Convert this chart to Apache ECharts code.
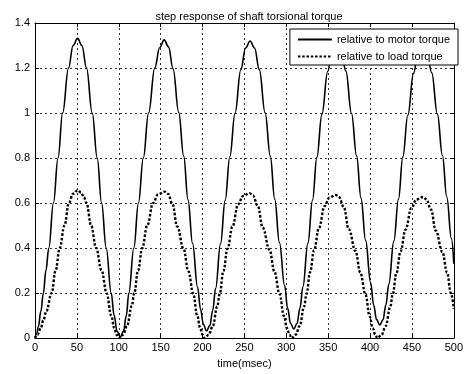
<!DOCTYPE html>
<html lang="en">
<head>
  <meta charset="UTF-8">
  <title>step response of shaft torsional torque</title>
  <style>
    html, body { margin: 0; padding: 0; background: #fff; }
    #chart { width: 466px; height: 374px; }
  </style>
</head>
<body>
<div id="chart"></div>
<script src="https://cdn.jsdelivr.net/npm/echarts@6/dist/echarts.min.js"></script>
<script>
  // values (time in msec)
  var motorTime = [
    0, 2, 4, 7, 10, 13, 16.5, 22, 27.5, 33, 40, 45.5, 50.8, 56, 61.5, 68.3, 74.3, 79.5, 85, 91, 94.5, 98, 101.8,
    105.6, 109, 112, 118, 123.5, 129.3, 135.6, 143, 148.8, 154.2,
    159.4, 164.8, 171.6, 177.5, 182.7, 188.1, 194.1, 197.6, 201, 204.8,
    208.7, 212.2, 215.6, 221.5, 227, 232.6, 238.8, 245.7, 251.4, 256.8,
    262.1, 267.8, 274.7, 280.9, 286.2, 291.8, 298, 301.6, 305.1, 309,
    312.8, 316.3, 319.8, 325.8, 331.3, 336.5, 342.5, 349.5, 354.8, 360.3,
    365.5, 371.1, 377.9, 383.9, 389.2, 394.7, 400.7, 404.3, 407.8, 411.6,
    415.4, 418.9, 422.4, 428.4, 433.9, 439.1, 445.1, 451.9, 457.4, 462.9,
    468.1, 473.6, 480.4, 486.4, 491.6, 497.1, 500
  ];
  var motorTorque = [
    0, 0.02, 0.05, 0.12, 0.2, 0.3, 0.4, 0.6, 0.8, 1.0, 1.2, 1.3, 1.332, 1.3, 1.2, 1.0, 0.8, 0.6, 0.4, 0.2, 0.1, 0.03, 0.005,
    0.03, 0.1, 0.2, 0.4, 0.6, 0.8, 1.0, 1.2, 1.29, 1.325,
    1.294, 1.197, 1.003, 0.809, 0.614, 0.42, 0.226, 0.129, 0.061, 0.032,
    0.056, 0.124, 0.221, 0.419, 0.612, 0.806, 0.999, 1.192, 1.289, 1.32,
    1.289, 1.193, 1.001, 0.809, 0.617, 0.425, 0.233, 0.132, 0.065, 0.041,
    0.065, 0.132, 0.227, 0.422, 0.613, 0.803, 0.994, 1.185, 1.28, 1.31,
    1.28, 1.186, 0.998, 0.81, 0.622, 0.434, 0.246, 0.147, 0.082, 0.058,
    0.081, 0.147, 0.24, 0.431, 0.617, 0.804, 0.99, 1.176, 1.27, 1.3,
    1.27, 1.179, 0.995, 0.811, 0.627, 0.443, 0.33
  ];

  var loadTime = [
    0, 3, 6.9, 10, 13.6, 19.8, 24.6, 29.5, 35.2, 40.4, 45.5, 51, 55, 58.4, 61.5, 67, 73, 79.5, 85.5, 91, 94.6, 97.5, 100,
    105, 110, 115.5, 118.5, 123, 128, 134, 141, 147, 154.9,
    158.9, 164.1, 169.8, 177.4, 183.1, 188.9, 193.7, 197.2, 200, 202.5,
    207.4, 212.3, 217.6, 220.6, 224.9, 229.8, 235.7, 242.5, 248.4, 256.2,
    260.2, 265.9, 271.9, 280, 285.9, 292, 297.2, 300.8, 303.8, 306.4,
    311.2, 316, 321.2, 324.1, 328.4, 333.2, 339, 345.7, 351.4, 359.1,
    363.1, 368.7, 374.6, 382.6, 388.4, 394.5, 399.6, 403.2, 406.2, 408.7,
    413.7, 418.6, 424.1, 427, 431.5, 436.4, 442.4, 449.3, 455.3, 463.2,
    467.2, 472.7, 478.5, 486.4, 492, 496.5, 500
  ];
  var loadTorque = [
    0, 0.015, 0.045, 0.08, 0.12, 0.2, 0.3, 0.4, 0.5, 0.6, 0.642, 0.657, 0.647, 0.626, 0.6, 0.5, 0.4, 0.3, 0.2, 0.1, 0.045, 0.015, 0,
    0.015, 0.055, 0.143, 0.2, 0.3, 0.4, 0.5, 0.6, 0.639, 0.651,
    0.641, 0.595, 0.496, 0.396, 0.297, 0.198, 0.099, 0.045, 0.015, 0,
    0.015, 0.054, 0.141, 0.198, 0.297, 0.396, 0.495, 0.594, 0.632, 0.644,
    0.634, 0.588, 0.49, 0.392, 0.294, 0.196, 0.098, 0.044, 0.015, 0,
    0.015, 0.054, 0.14, 0.195, 0.293, 0.391, 0.489, 0.586, 0.624, 0.636,
    0.626, 0.581, 0.484, 0.387, 0.29, 0.194, 0.097, 0.044, 0.015, 0,
    0.014, 0.053, 0.138, 0.193, 0.289, 0.385, 0.482, 0.578, 0.616, 0.627,
    0.617, 0.572, 0.477, 0.382, 0.29, 0.2, 0.13
  ];

  var seriesNames = ['relative to motor torque', 'relative to load torque'];

  function pairs(xs, ys) {
    return xs.map(function (x, i) { return [x, ys[i]]; });
  }

  var font = 'Liberation Sans, Arial, sans-serif';
  var chart = echarts.init(document.getElementById('chart'));

  var gridLine = { show: true, lineStyle: { color: '#333', width: 1, type: [2, 3] } };
  var boxLine = { show: true, onZero: false, lineStyle: { color: '#000', width: 1 } };
  var tick = { show: true, inside: true, length: 4, lineStyle: { color: '#000' } };

  var option = {
    animation: false,
    backgroundColor: '#fff',
    title: {
      text: 'step response of shaft torsional torque',
      left: 244, top: 6, textAlign: 'center',
      textStyle: { fontFamily: font, fontSize: 11, fontWeight: 'normal', color: '#000' }
    },
    legend: {
      data: seriesNames,
      orient: 'vertical',
      right: 8, top: 29,
      padding: [5, 8, 3, 7],
      itemWidth: 34, itemHeight: 10, itemGap: 6,
      itemStyle: { opacity: 0 },
      backgroundColor: '#fff',
      borderColor: '#000', borderWidth: 1,
      selectedMode: false,
      textStyle: { fontFamily: font, fontSize: 11, color: '#000', lineHeight: 10 }
    },
    grid: { left: 35, right: 7, top: 23, bottom: 31 },
    xAxis: [{
      type: 'value', min: 0, max: 500, interval: 50,
      name: 'time(msec)', nameLocation: 'middle', nameGap: 18,
      nameTextStyle: { fontFamily: font, fontSize: 11, color: '#000' },
      axisLine: boxLine, axisTick: tick, splitLine: gridLine,
      axisLabel: { fontFamily: font, fontSize: 11, color: '#000', margin: 4 }
    }, {
      type: 'value', min: 0, max: 500, interval: 50, position: 'top',
      axisLine: boxLine, axisTick: tick, splitLine: { show: false },
      axisLabel: { show: false }
    }],
    yAxis: [{
      type: 'value', min: 0, max: 1.4, interval: 0.2,
      axisLine: boxLine, axisTick: tick, splitLine: gridLine,
      axisLabel: { fontFamily: font, fontSize: 11, color: '#000', margin: 5 }
    }, {
      type: 'value', min: 0, max: 1.4, interval: 0.2, position: 'right',
      axisLine: boxLine, axisTick: tick, splitLine: { show: false },
      axisLabel: { show: false }
    }],
    series: [{
      name: seriesNames[0],
      type: 'line',
      data: pairs(motorTime, motorTorque),
      smooth: 0.4, smoothMonotone: 'x',
      symbol: 'none',
      lineStyle: { color: '#000', width: 1.6, type: 'solid' },
      itemStyle: { color: '#000' }
    }, {
      name: seriesNames[1],
      type: 'line',
      data: pairs(loadTime, loadTorque),
      smooth: 0.4, smoothMonotone: 'x',
      symbol: 'none',
      lineStyle: { color: '#000', width: 2.4, type: [2.5, 1.8] },
      itemStyle: { color: '#000' }
    }]
  };

  chart.setOption(option);
</script>
</body>
</html>
